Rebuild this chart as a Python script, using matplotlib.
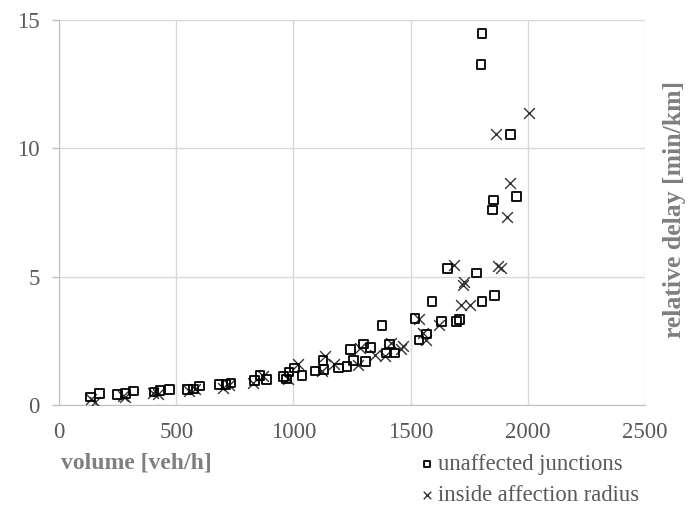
import matplotlib
matplotlib.use("Agg")
import matplotlib.pyplot as plt

# unaffected junctions (squares)
sq_x = [1805, 1800, 1927, 1854, 1849, 1952, 1658, 1780, 1591, 1805, 1859, 1378, 1518, 1633,
        1695, 1709, 1535, 1569, 1409, 1434, 1395, 1243, 1299, 1329, 1257, 1307, 1228, 1193,
        1127, 1130, 1092, 1037, 1004, 982, 957, 970, 886, 857, 835, 734, 712, 683, 599, 574,
        548, 472, 430, 405, 317, 283, 250, 172, 135]
sq_y = [14.47, 13.26, 10.53, 7.98, 7.59, 8.13, 5.32, 5.14, 4.04, 4.04, 4.26, 3.10, 3.38, 3.25,
        3.25, 3.34, 2.54, 2.76, 2.38, 2.03, 2.03, 2.16, 2.38, 2.25, 1.73, 1.70, 1.51, 1.45,
        1.73, 1.38, 1.32, 1.15, 1.45, 1.28, 1.12, 1.02, 0.99, 1.15, 0.96, 0.86, 0.80, 0.80,
        0.74, 0.63, 0.61, 0.61, 0.57, 0.50, 0.54, 0.44, 0.41, 0.44, 0.31]

# inside affection radius (crosses)
cx_x = [2004, 1864, 1923, 1911, 1684, 1873, 1886, 1729, 1724, 1717, 1754, 1535, 1620, 1552,
        1565, 1468, 1459, 1417, 1392, 1350, 1282, 1274, 1134, 1122, 1172, 1021, 975, 869, 827,
        700, 726, 582, 553, 422, 401, 283, 275, 152, 135]
cx_y = [11.39, 10.55, 8.66, 7.32, 5.45, 5.42, 5.34, 4.80, 4.67, 3.90, 3.90, 3.34, 3.12, 2.80,
        2.54, 2.28, 2.18, 2.41, 1.90, 1.96, 2.22, 1.57, 1.92, 1.32, 1.60, 1.60, 1.02, 1.12, 0.86,
        0.67, 0.76, 0.61, 0.54, 0.41, 0.48, 0.31, 0.37, 0.13, 0.22]

x_ticks = [0, 500, 1000, 1500, 2000, 2500]
y_ticks = [0, 5, 10, 15]

plt.rcParams['font.family'] = ['Liberation Serif', 'DejaVu Serif']

fig = plt.figure(figsize=(6.92, 5.05), dpi=100)
ax = fig.add_axes([59/692, 1-405/505, (645-59)/692, (405-20)/505])

ax.scatter(cx_x, cx_y, marker='x', s=60, color='#333333', linewidths=1.0,
           label='inside affection radius', zorder=3)
ax.scatter(sq_x, sq_y, marker='s', s=38, facecolors='none', edgecolors='black',
           linewidths=1.3, label='unaffected junctions', zorder=4)

ax.set_xlim(0, 2500)
ax.set_ylim(0, 15)
ax.set_xticks(x_ticks)
ax.set_yticks(y_ticks)
ax.grid(True, color='#d9d9d9', linewidth=1.0)
ax.set_axisbelow(True)
for s in ['top', 'right']:
    ax.spines[s].set_visible(False)
for s in ['left', 'bottom']:
    ax.spines[s].set_color('#bfbfbf')
ax.tick_params(axis='both', colors='#bfbfbf', labelcolor='#595959', labelsize=16.5,
               length=5, width=1)
ax.tick_params(axis='x', pad=12, length=0)
ax.tick_params(axis='y', pad=9)

fig.text(61/692, 1-463/505, 'volume [veh/h]', fontsize=17, fontweight='bold',
         color='#7f7f7f', ha='left', va='center')
fig.text(675/692, 1-210/505, 'relative delay [min/km]', fontsize=18.5, fontweight='bold',
         color='#7f7f7f', ha='center', va='center', rotation=90)

h, l = ax.get_legend_handles_labels()
leg = fig.legend([h[1], h[0]], [l[1], l[0]], loc='upper left',
                 bbox_to_anchor=(404/692, 1-443/505), frameon=False, fontsize=16.3,
                 handletextpad=0.0, handlelength=1.0, labelspacing=0.42,
                 markerscale=0.7, borderpad=0, labelcolor='#595959')

fig.savefig('out.png', dpi=100)
